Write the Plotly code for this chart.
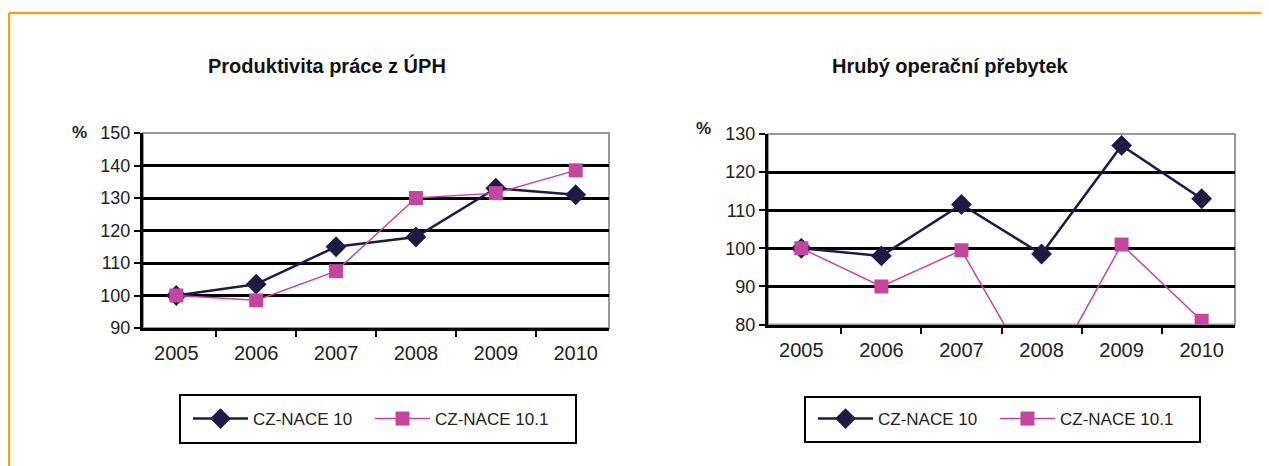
import plotly.graph_objects as go

years = ["2005", "2006", "2007", "2008", "2009", "2010"]
prod_nace10 = [100, 103.5, 115, 118, 133, 131]
prod_nace101 = [100, 98.5, 107.5, 130, 131.5, 138.5]
hop_nace10 = [100, 98, 111.5, 98.5, 127, 113]
hop_nace101 = [100, 90, 99.5, 63, 101, 81]

title_left = "Produktivita práce z ÚPH"
title_right = "Hrubý operační přebytek"
name_a = "CZ-NACE 10"
name_b = "CZ-NACE 10.1"

W, H = 1269, 466
OFF = 8  # default page body margin
DARK = "#1d1b44"
PINK = "#c4469e"
FONT = "Liberation Sans, Arial, sans-serif"


def px(x):
    return (x - OFF) / W


def py(y):
    return 1 - (y - OFF) / H


fig = go.Figure()


def add(xa, ya, y, name, color, symbol, size, lw, legend):
    fig.add_trace(go.Scatter(
        x=years, y=y, name=name, mode="lines+markers",
        line=dict(color=color, width=lw),
        marker=dict(symbol=symbol, size=size, color=color),
        xaxis=xa, yaxis=ya, legend=legend,
    ))


add("x", "y", prod_nace10, name_a, DARK, "diamond", 16, 2.5, "legend")
add("x", "y", prod_nace101, name_b, PINK, "square", 14, 1.5, "legend")
add("x2", "y2", hop_nace10, name_a, DARK, "diamond", 16, 2.5, "legend2")
add("x2", "y2", hop_nace101, name_b, PINK, "square", 14, 1.5, "legend2")

xcommon = dict(type="category", showgrid=False, showline=True, linecolor="black",
               linewidth=3, ticks="outside", tickson="boundaries", ticklen=6,
               tickwidth=2, tickcolor="black", fixedrange=True, ticklabelstandoff=5,
               tickfont=dict(family=FONT, size=20, color="#222"))
ycommon = dict(showgrid=True, gridcolor="black", gridwidth=2.5, showline=True,
               linecolor="black", linewidth=3, ticks="outside", ticklen=6,
               tickwidth=2, tickcolor="black", zeroline=False, dtick=10,
               tickfont=dict(family=FONT, size=18, color="#222"))

legcommon = dict(orientation="h", xanchor="left", yanchor="middle",
                 borderwidth=0, bgcolor="rgba(0,0,0,0)", itemwidth=55,
                 entrywidth=112, font=dict(family=FONT, size=17, color="#222"),
                 itemclick=False, itemdoubleclick=False)

fig.update_layout(
    width=W, height=H,
    margin=dict(l=0, r=0, t=0, b=0, autoexpand=False),
    paper_bgcolor="white", plot_bgcolor="white",
    font=dict(family=FONT, color="#222"),
    xaxis=dict(domain=[px(143), px(609)], anchor="y", **xcommon),
    yaxis=dict(domain=[py(328), py(133)], anchor="x", range=[90, 150], **ycommon),
    xaxis2=dict(domain=[px(768), px(1235)], anchor="y2", **xcommon),
    yaxis2=dict(domain=[py(324.5), py(134)], anchor="x2", range=[80, 130], **ycommon),
    legend=dict(x=px(188), y=py(419), **legcommon),
    legend2=dict(x=px(813), y=py(419), **legcommon),
    showlegend=True,
)

# gray plot-area frames (top/right)
for xr, yr in (("x domain", "y domain"), ("x2 domain", "y2 domain")):
    fig.add_shape(type="rect", xref=xr, yref=yr, x0=0, x1=1, y0=0, y1=1,
                  line=dict(color="#999", width=2), layer="below")

# legend boxes
for x0, x1, y0, y1 in ((180, 576, 395, 443), (805, 1200, 397, 442)):
    fig.add_shape(type="rect", xref="paper", yref="paper",
                  x0=px(x0), x1=px(x1), y0=py(y1), y1=py(y0),
                  line=dict(color="black", width=2))

# orange frame
fig.add_shape(type="line", xref="paper", yref="paper", x0=px(9), x1=1.02, y0=py(13), y1=py(13),
              line=dict(color="#e2a822", width=2.5))
fig.add_shape(type="line", xref="paper", yref="paper", x0=px(9), x1=px(9), y0=py(13), y1=-0.05,
              line=dict(color="#e2a822", width=2.5))

# titles
for txt, x in ((title_left, 327), (title_right, 950)):
    fig.add_annotation(text="<b>" + txt + "</b>", xref="paper", yref="paper",
                       x=px(x), y=py(66), xanchor="center", yanchor="middle",
                       showarrow=False, font=dict(family=FONT, size=20, color="#111"))
# percent labels
for x, y in ((79, 133), (703, 128)):
    fig.add_annotation(text="<b>%</b>", xref="paper", yref="paper", x=px(x), y=py(y),
                       xanchor="center", yanchor="middle",
                       showarrow=False, font=dict(family=FONT, size=17, color="#222"))

fig.write_html("out.html")
